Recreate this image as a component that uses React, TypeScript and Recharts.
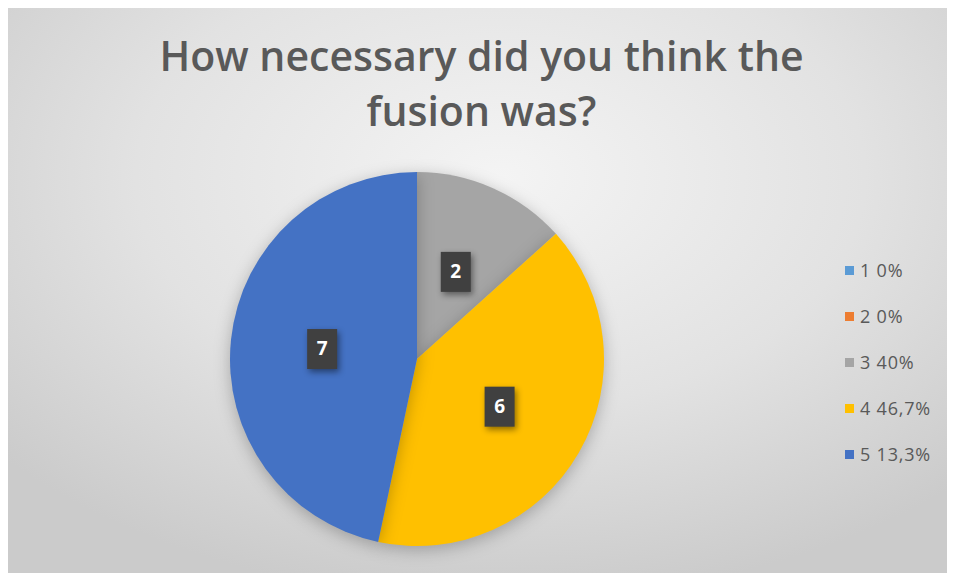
import { Cell, Legend, Pie, PieChart } from "recharts";

const categories = ["1", "2", "3", "4", "5"];
const counts = [0, 0, 2, 6, 7];
const legendLabels = ["1 0%", "2 0%", "3 40%", "4 46,7%", "5 13,3%"];
const colors = ["#5B9BD5", "#ED7D31", "#A5A5A5", "#FFC000", "#4472C4"];

const data = categories.map((name, i) => ({ name, value: counts[i] }));

const RAD = Math.PI / 180;

function renderLabel(props: any) {
  const { cx, cy, midAngle, outerRadius, value } = props;
  if (!value) return null;
  const r = outerRadius * 0.51;
  const x = cx + r * Math.cos(-midAngle * RAD);
  const y = cy + r * Math.sin(-midAngle * RAD);
  return (
    <g>
      <rect
        x={x - 15}
        y={y - 20}
        width={30}
        height={40}
        fill="#404040"
        style={{ filter: "drop-shadow(2px 3px 3px rgba(0,0,0,0.45))" }}
      />
      <text
        x={x}
        y={y + 1}
        fill="#ffffff"
        fontSize={19}
        fontWeight={700}
        fontFamily="'Open Sans', sans-serif"
        textAnchor="middle"
        dominantBaseline="middle"
      >
        {value}
      </text>
    </g>
  );
}

function LegendList() {
  return (
    <div
      style={{
        fontFamily: "'Open Sans', sans-serif",
        fontSize: 18,
        letterSpacing: 0.8,
        color: "#595959",
      }}
    >
      {legendLabels.map((label, i) => (
        <div key={label} style={{ display: "flex", alignItems: "center", height: 46 }}>
          <span
            style={{ width: 9, height: 9, background: colors[i], marginRight: 6, display: "inline-block" }}
          />
          {label}
        </div>
      ))}
    </div>
  );
}

export default function App() {
  return (
    <div
      style={{
        position: "relative",
        width: 947,
        height: 565,
        background: "radial-gradient(ellipse 70% 75% at 52% 30%, #f4f4f4 0%, #e2e2e2 55%, #cbcbcb 100%)",
      }}
    >
      <style>{`.recharts-pie-sector path { filter: drop-shadow(0px 4px 8px rgba(0,0,0,0.25)); }`}</style>
      <div
        style={{
          position: "absolute",
          top: 20,
          left: 0,
          width: 947,
          textAlign: "center",
          fontFamily: "'Open Sans', sans-serif",
          fontWeight: 600,
          fontSize: 41,
          lineHeight: "55px",
          color: "#595959",
        }}
      >
        How necessary did you think the
        <br />
        fusion was?
      </div>
      <PieChart width={947} height={565} margin={{ top: 0, right: 0, bottom: 0, left: 0 }}>
        <Pie
          data={data}
          dataKey="value"
          nameKey="name"
          cx={409}
          cy={351}
          outerRadius={187}
          startAngle={90}
          endAngle={-270}
          stroke="none"
          label={renderLabel}
          labelLine={false}
          isAnimationActive={false}
        >
          {data.map((d, i) => (
            <Cell key={d.name} fill={colors[i]} />
          ))}
        </Pie>
        <Legend
          layout="vertical"
          align="right"
          verticalAlign="top"
          wrapperStyle={{ top: 239, left: 837, right: "auto", width: 110 }}
          content={() => <LegendList />}
        />
      </PieChart>
    </div>
  );
}
